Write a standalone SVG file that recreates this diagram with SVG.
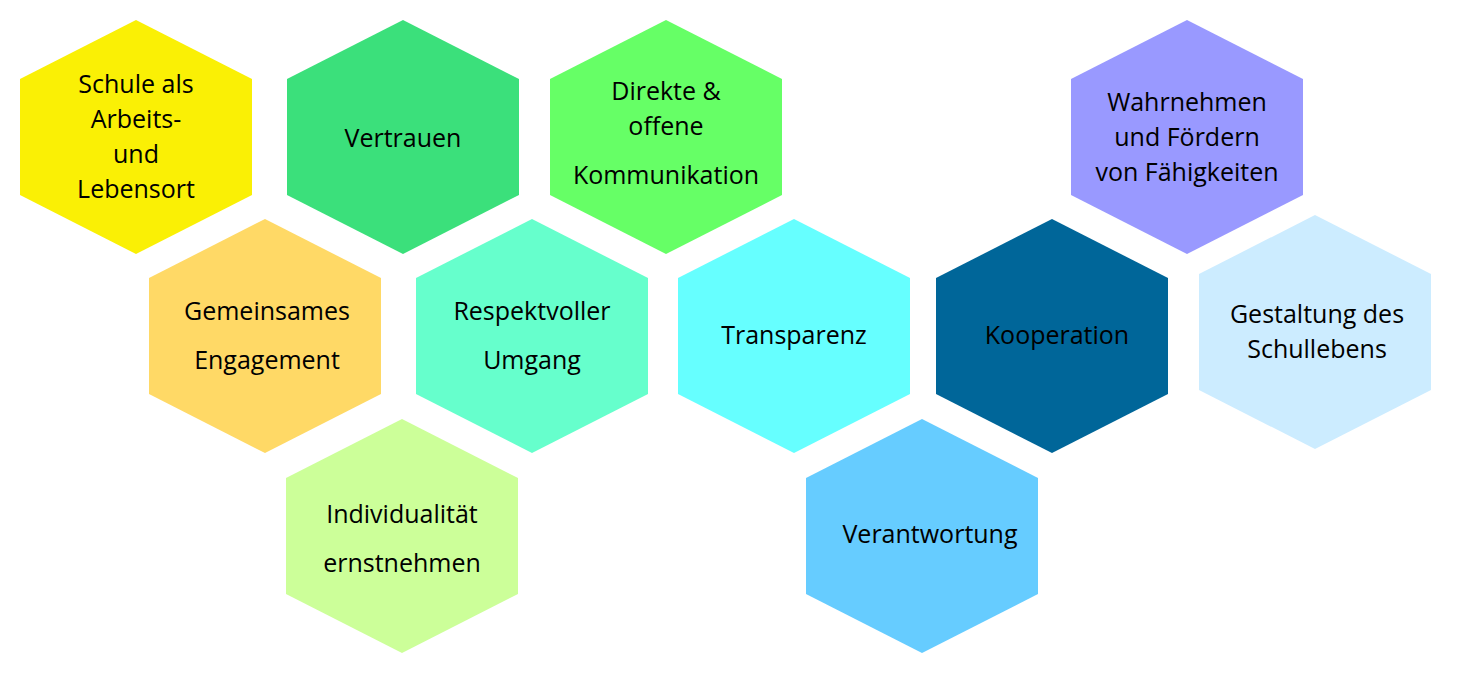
<svg xmlns="http://www.w3.org/2000/svg" width="1468" height="682" viewBox="0 0 1468 682">
<style>
text{font-family:"Open Sans","Liberation Sans",sans-serif;font-size:25px;fill:#000;text-anchor:middle}
</style>
<defs><path id="h" d="M0,-117 L116,-58 L116,58 L0,117 L-116,58 L-116,-58Z"/></defs>
<rect width="1468" height="682" fill="#fff"/>
<g id="n1"><use href="#h" x="136" y="137" fill="#FAF005"/><text x="136" y="93">Schule als</text><text x="136" y="128">Arbeits-</text><text x="136" y="163">und</text><text x="136" y="198">Lebensort</text></g>
<g id="n2"><use href="#h" x="403" y="137" fill="#3BE07B"/><text x="403" y="147">Vertrauen</text></g>
<g id="n3"><use href="#h" x="666" y="137" fill="#66FF66"/><text x="666" y="100">Direkte &amp;</text><text x="666" y="135">offene</text><text x="666" y="184">Kommunikation</text></g>
<g id="n4"><use href="#h" x="1187" y="137" fill="#9999FF"/><text x="1187" y="111">Wahrnehmen</text><text x="1187" y="146">und Fördern</text><text x="1187" y="181">von Fähigkeiten</text></g>
<g id="n5"><use href="#h" x="265" y="336" fill="#FFD966"/><text x="267" y="320">Gemeinsames</text><text x="267" y="369">Engagement</text></g>
<g id="n6"><use href="#h" x="532" y="336" fill="#66FFCC"/><text x="532" y="320">Respektvoller</text><text x="532" y="369">Umgang</text></g>
<g id="n7"><use href="#h" x="794" y="336" fill="#66FFFF"/><text x="794" y="344">Transparenz</text></g>
<g id="n8"><use href="#h" x="1052" y="336" fill="#006699"/><text x="1057" y="344">Kooperation</text></g>
<g id="n9"><use href="#h" x="1315" y="332" fill="#CCECFF"/><text x="1317" y="323">Gestaltung des</text><text x="1317" y="358">Schullebens</text></g>
<g id="n10"><use href="#h" x="402" y="536" fill="#CCFF99"/><text x="402" y="523">Individualität</text><text x="402" y="572">ernstnehmen</text></g>
<g id="n11"><use href="#h" x="922" y="536" fill="#66CCFF"/><text x="930" y="543">Verantwortung</text></g>
<g id="connectors"/>
</svg>
